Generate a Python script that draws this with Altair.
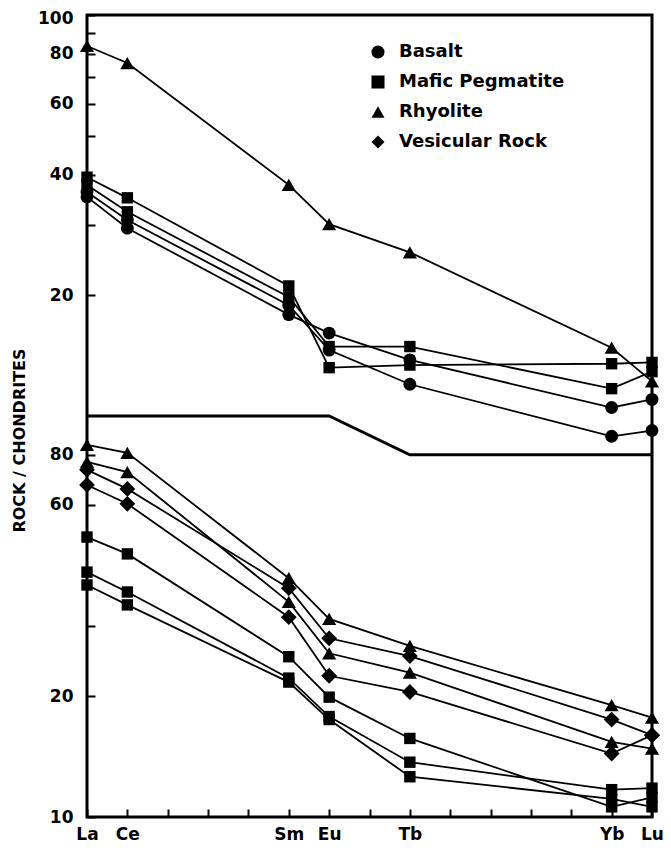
import altair as alt
import pandas as pd

# ---------------- data ----------------
ELEMENTS = ["La", "Ce", "Sm", "Eu", "Tb", "Yb", "Lu"]
ATOMIC_NUMBER = {"La": 57, "Ce": 58, "Pr": 59, "Nd": 60, "Pm": 61, "Sm": 62, "Eu": 63,
                 "Gd": 64, "Tb": 65, "Dy": 66, "Ho": 67, "Er": 68, "Tm": 69, "Yb": 70, "Lu": 71}
LABELED_ELEMENTS = ["La", "Ce", "Sm", "Eu", "Tb", "Yb", "Lu"]

ROCKS = ["Basalt", "Mafic Pegmatite", "Rhyolite", "Vesicular Rock"]
SHAPES = ["circle", "square", "triangle-up", "diamond"]
SHAPE_SIZES = [165, 130, 200, 250]

# upper panel (its own 10-100 axis, drawn one decade above the lower panel)
up_basalt_1 = [35.2, 29.4, 17.9, 16.1, 13.8, 10.5, 11.0]
up_basalt_2 = [36.2, 30.8, 18.9, 14.6, 12.0, 8.9, 9.2]
up_mafic_1 = [39.4, 35.0, 21.1, 13.2, 13.4, 13.5, 13.6]
up_mafic_2 = [37.7, 32.3, 19.8, 14.9, 14.9, 11.7, 12.9]
up_rhyolite = [83.7, 75.9, 37.7, 30.1, 25.6, 14.8, 12.2]

# lower panel (10-100 axis)
lo_mafic_1 = [49.9, 45.3, 25.1, 19.9, 15.7, 10.6, 11.2]
lo_mafic_2 = [40.8, 36.4, 22.2, 17.8, 13.7, 11.7, 11.8]
lo_mafic_3 = [37.9, 33.8, 21.7, 17.5, 12.6, 11.1, 10.6]
lo_rhyolite_1 = [84.7, 80.9, 39.4, 31.2, 26.7, 19.0, 17.7]
lo_rhyolite_2 = [76.8, 72.5, 34.4, 25.6, 22.9, 15.4, 14.8]
lo_vesicular_1 = [73.4, 65.8, 37.2, 27.9, 25.2, 17.5, 16.0]
lo_vesicular_2 = [67.3, 60.4, 31.5, 22.5, 20.5, 14.4, 16.0]

# boundary line between the two panels (values on the lower panel's axis)
BREAK_ELEMENTS = ["La", "Eu", "Tb", "Lu"]
BREAK_LEVELS = [100, 100, 80, 80]

# axis ticks
LOWER_TICKS = [10, 20, 30, 60, 80]
LOWER_LABELED = [10, 20, 60, 80]
UPPER_TICKS = [20, 30, 40, 50, 60, 70, 80, 90, 100]
UPPER_LABELED = [20, 40, 60, 80, 100]
PANEL_FACTOR = 10

series = [
    ("upper", "Basalt", "ub1", up_basalt_1),
    ("upper", "Basalt", "ub2", up_basalt_2),
    ("upper", "Mafic Pegmatite", "um1", up_mafic_1),
    ("upper", "Mafic Pegmatite", "um2", up_mafic_2),
    ("upper", "Rhyolite", "ur1", up_rhyolite),
    ("lower", "Mafic Pegmatite", "lm1", lo_mafic_1),
    ("lower", "Mafic Pegmatite", "lm2", lo_mafic_2),
    ("lower", "Mafic Pegmatite", "lm3", lo_mafic_3),
    ("lower", "Rhyolite", "lr1", lo_rhyolite_1),
    ("lower", "Rhyolite", "lr2", lo_rhyolite_2),
    ("lower", "Vesicular Rock", "lv1", lo_vesicular_1),
    ("lower", "Vesicular Rock", "lv2", lo_vesicular_2),
]

rows = []
for panel, rock, sid, vals in series:
    for el, v in zip(ELEMENTS, vals):
        rows.append({"panel": panel, "rock": rock, "sample": sid, "element": el,
                     "z": ATOMIC_NUMBER[el], "value": v})
df = pd.DataFrame(rows)

break_df = pd.DataFrame({"z": [ATOMIC_NUMBER[e] for e in BREAK_ELEMENTS], "value": BREAK_LEVELS})

# ---------------- scales & axes ----------------
FONT = "DejaVu Sans"
zmin, zmax = ATOMIC_NUMBER["La"], ATOMIC_NUMBER["Lu"]
x_names = [""] * (zmax - zmin + 1)
for e in LABELED_ELEMENTS:
    x_names[ATOMIC_NUMBER[e] - zmin] = e
x_label_expr = "[" + ",".join("'%s'" % n for n in x_names) + f"][round(datum.value) - {zmin}]"

y_top = 100 * PANEL_FACTOR
y_tick_values = LOWER_TICKS + [t * PANEL_FACTOR for t in UPPER_TICKS]
upper_lab = [t * PANEL_FACTOR for t in UPPER_LABELED]
y_label_expr = (
    f"datum.value > 99 ? (indexof({upper_lab}, datum.value) >= 0 ? format(datum.value / {PANEL_FACTOR}, 'd') : '')"
    f" : (indexof({LOWER_LABELED}, datum.value) >= 0 ? format(datum.value, 'd') : '')"
)
size_expr = "[" + ",".join(str(s) for s in SHAPE_SIZES) + "][indexof(" + str(ROCKS) + ", datum.rock)]"

x_scale = alt.Scale(domain=[zmin, zmax], nice=False, zero=False)
y_scale = alt.Scale(type="log", domain=[10, y_top], nice=False)

x_axis = alt.Axis(values=list(range(zmin, zmax + 1)), labelExpr=x_label_expr, title=None,
                  domain=False, offset=-8, tickSize=8, tickWidth=2, tickColor="black",
                  labelFont=FONT, labelFontSize=17, labelFontWeight="bold", labelColor="black",
                  labelPadding=9, grid=False, labelFlush=False, labelOverlap=False)
y_axis = alt.Axis(values=y_tick_values, labelExpr=y_label_expr, title="ROCK / CHONDRITES",
                  domain=False, offset=-8, tickSize=8, tickWidth=2, tickColor="black",
                  labelFont=FONT, labelFontSize=17, labelFontWeight="bold", labelColor="black",
                  labelPadding=14, grid=False, labelOverlap=False,
                  labelOffset={"condition": {"test": f"datum.value == {y_top}", "value": 3}, "value": 0},
                  titleFont=FONT, titleFontSize=16, titleFontWeight="bold", titleColor="black",
                  titleX=-76, titleY=425, titleAngle=270, titleAlign="center", titleBaseline="middle")

base = alt.Chart(df).transform_calculate(
    yplot=f"datum.panel == 'upper' ? datum.value * {PANEL_FACTOR} : datum.value",
    msize=size_expr,
)

lines = base.mark_line(color="black", strokeWidth=1.8).encode(
    x=alt.X("z:Q", scale=x_scale, axis=x_axis),
    y=alt.Y("yplot:Q", scale=y_scale, axis=y_axis),
    detail="sample:N",
    order="z:Q",
)

points = base.mark_point(filled=True, color="black", opacity=1).encode(
    x=alt.X("z:Q", scale=x_scale),
    y=alt.Y("yplot:Q", scale=y_scale),
    shape=alt.Shape("rock:N", scale=alt.Scale(domain=ROCKS, range=SHAPES),
                    legend=alt.Legend(title=None, orient="none", legendX=282, legendY=28,
                                      labelFont=FONT, labelFontSize=18, labelFontWeight="bold",
                                      labelColor="black", labelLimit=400, symbolSize=170,
                                      symbolFillColor="black",
                                      symbolStrokeColor="black", symbolStrokeWidth=0,
                                      symbolOpacity=1, rowPadding=12, labelOffset=12, padding=0)),
    size=alt.Size("msize:Q", scale=None),
)

boundary = alt.Chart(break_df).mark_line(color="black", strokeWidth=3).encode(
    x=alt.X("z:Q", scale=x_scale),
    y=alt.Y("value:Q", scale=y_scale),
)

chart = alt.layer(boundary, lines, points).properties(
    width=565, height=802,
    autosize=alt.AutoSizeParams(type="none"),
    padding={"left": 79, "top": 7, "right": 11, "bottom": 29},
    background="white",
).configure_view(stroke="black", strokeWidth=3)

chart.save("out.html", embed_options={"renderer": "svg", "actions": False})
